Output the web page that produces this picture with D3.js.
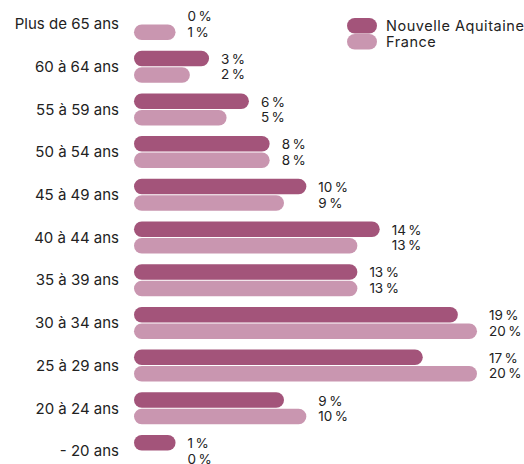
<!DOCTYPE html>
<html>
<head>
  <meta charset="utf-8">
  <title></title>
  <style type="text/css">
    body { margin: 0; background: #fff; }
    #my_dataviz text { font-family: "Inter", "Lato", sans-serif; fill: #222; }
  </style>
</head>
<body>
  <div id="my_dataviz"></div>
</body>
<script src="https://d3js.org/d3.v7.min.js"></script>

<script type="text/javascript">

      var categories = ["Plus de 65 ans","60 à 64 ans","55 à 59 ans","50 à 54 ans","45 à 49 ans","40 à 44 ans","35 à 39 ans","30 à 34 ans","25 à 29 ans","20 à 24 ans","- 20 ans"]
      var naValues = [0, 3.2, 5.7, 7.0, 9.3, 13.9, 12.5, 18.8, 16.6, 7.9, 1.1]
      var frValues = [1.1, 2.0, 4.3, 7.0, 7.9, 12.5, 12.5, 20, 20, 9.3, 0]
      var naLabels = ["0","3","6","8","10","14","13","19","17","9","1"]
      var frLabels = ["1","2","5","8","9","13","13","20","20","10","0"]
      var series = ["Nouvelle Aquitaine", "France"]

      var width = 524, height = 464
      var left = 134, barH = 15.5

      var svg = d3.select("#my_dataviz")
        .append("svg")
          .attr("width", width)
          .attr("height", height)

      var color = d3.scaleOrdinal()
        .domain(series)
        .range(["#a3547a", "#c996b0"])

      // bar length (rounded ends need a base length)
      var x = d3.scaleLinear()
        .domain([0, 20])
        .range([24, 343])

      var y = d3.scalePoint()
        .domain(categories)
        .range([24, 451])

      var rows = categories.map(function(c, i) {
        return {cat: c, na: naValues[i], fr: frValues[i], naL: naLabels[i], frL: frLabels[i]}
      })

      var g = svg.append("g")
        .selectAll("g")
        .data(rows)
        .enter()
        .append("g")
          .attr("transform", function(d) { return "translate(0," + y(d.cat) + ")" })

      g.append("text")
        .attr("x", 119)
        .attr("y", 0)
        .attr("dy", "0.35em")
        .attr("text-anchor", "end")
        .style("font-size", "15px")
        .text(function(d) { return d.cat })

      g.filter(function(d) { return d.na > 0 })
        .append("rect")
          .attr("x", left)
          .attr("y", -16)
          .attr("width", function(d) { return x(d.na) })
          .attr("height", barH)
          .attr("rx", barH / 2)
          .attr("fill", color(series[0]))

      g.filter(function(d) { return d.fr > 0 })
        .append("rect")
          .attr("x", left)
          .attr("y", 0.5)
          .attr("width", function(d) { return x(d.fr) })
          .attr("height", barH)
          .attr("rx", barH / 2)
          .attr("fill", color(series[1]))

      function labelX(d) {
        var m = Math.max(d.na > 0 ? x(d.na) : 0, d.fr > 0 ? x(d.fr) : 0)
        return left + m + 12
      }

      g.append("text")
        .attr("x", labelX)
        .attr("y", -7.5)
        .attr("dy", "0.35em")
        .style("font-size", "13.5px")
        .style("letter-spacing", "0.3px")
        .text(function(d) { return d.naL + "\u202F%" })

      g.append("text")
        .attr("x", labelX)
        .attr("y", 8)
        .attr("dy", "0.35em")
        .style("font-size", "13.5px")
        .style("letter-spacing", "0.3px")
        .text(function(d) { return d.frL + "\u202F%" })

      // legend
      var legend = svg.append("g")
        .selectAll("g")
        .data(series)
        .enter()
        .append("g")
          .attr("transform", function(d, i) { return "translate(347," + (18 + i * 16) + ")" })

      legend.append("rect")
        .attr("width", 30)
        .attr("height", barH)
        .attr("rx", barH / 2)
        .attr("fill", function(d) { return color(d) })

      legend.append("text")
        .attr("x", 39)
        .attr("y", barH / 2)
        .attr("dy", "0.35em")
        .style("font-size", "14.5px")
        .style("letter-spacing", "0.55px")
        .text(function(d) { return d })

</script>
</html>
